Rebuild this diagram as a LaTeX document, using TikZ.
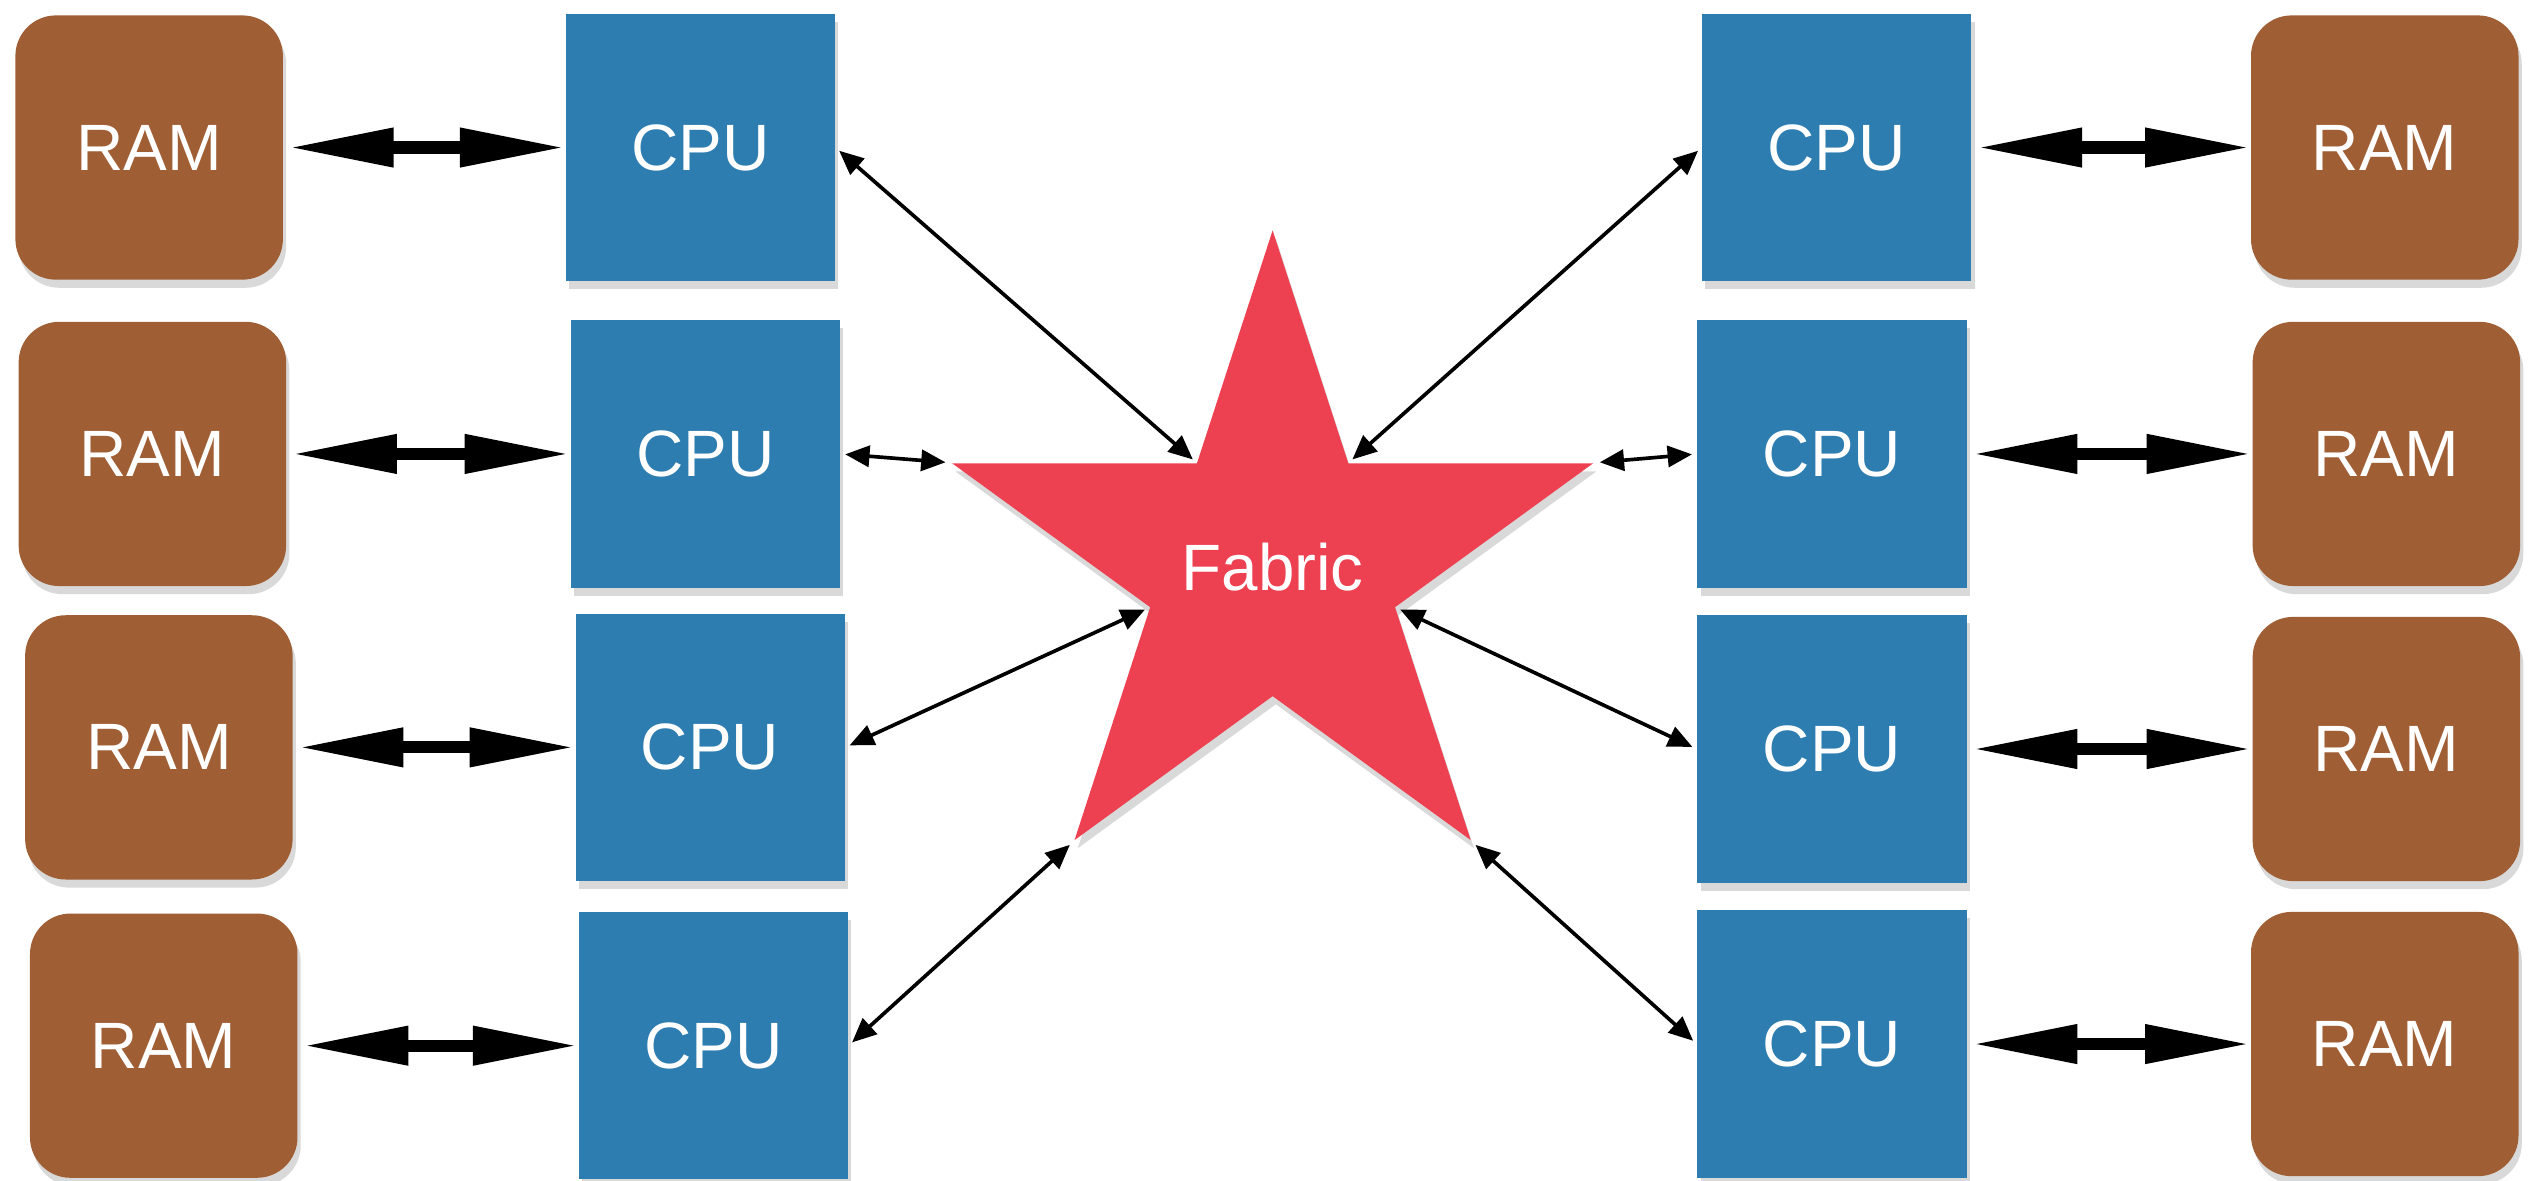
\documentclass[tikz,border=0pt]{standalone}
\usepackage{fontspec}
\setmainfont{Liberation Sans}
\usetikzlibrary{shapes.geometric,arrows.meta,shadows}
\definecolor{ramBrown}{RGB}{160,94,52}
\definecolor{cpuBlue}{RGB}{46,125,176}
\definecolor{fabricRed}{RGB}{237,64,80}
\tikzset{
  boxshadow/.style={drop shadow={opacity=0.3,shadow xshift=0.4mm,shadow yshift=-1mm}},
  boxlabel/.style={text=white,font=\fontsize{23}{27}\selectfont},
  ram/.style={boxlabel,boxshadow,fill=ramBrown,rounded corners=5mm,minimum width=33mm,minimum height=32.6mm},
  cpu/.style={boxlabel,boxshadow,fill=cpuBlue,minimum width=33.2mm,minimum height=33mm},
  membus/.style={line width=1.5mm,{Triangle[length=13mm,width=4.5mm]}-{Triangle[length=13mm,width=4.5mm]},shorten <=0.6mm},
  link/.style={line width=0.45mm,{Triangle[length=3mm,width=2.6mm]}-{Triangle[length=3mm,width=2.6mm]},shorten <=0.6mm,shorten >=0.6mm}
}

\begin{document}
\begin{tikzpicture}[x=0.2mm,y=-0.2mm]
  \useasboundingbox (0,0) rectangle (1568,728);
  \node[star,star points=5,star point ratio=2.618,minimum size=82mm,inner sep=0pt,
        fill=fabricRed,boxlabel,boxshadow] (fabric) at (785,350) {Fabric};
  \foreach \i/\rx/\cx/\y in {1/92/432/91,2/94/435/280,3/98/438/461,4/101/440/645}{
    \node[ram] (ramL\i) at (\rx,\y) {RAM};
    \node[cpu] (cpuL\i) at (\cx,\y) {CPU};
    \draw[membus] (ramL\i) -- (cpuL\i);
  }
  \foreach \i/\rx/\cx/\y in {1/1471/1133/91,2/1472/1130/280,3/1472/1130/462,4/1471/1130/644}{
    \node[ram] (ramR\i) at (\rx,\y) {RAM};
    \node[cpu] (cpuR\i) at (\cx,\y) {CPU};
    \draw[membus] (cpuR\i) -- (ramR\i);
  }
  \foreach \i/\p in {1/inner point 1,3/inner point 2,4/outer point 3}
    \draw[link] (cpuL\i.east) -- (fabric.\p);
  \draw[link] (cpuL2.east) -- (fabric.outer point 2);
  \foreach \i/\p in {1/inner point 5,2/outer point 5,3/inner point 4,4/outer point 4}
    \draw[link] (cpuR\i.west) -- (fabric.\p);
\end{tikzpicture}
\end{document}
